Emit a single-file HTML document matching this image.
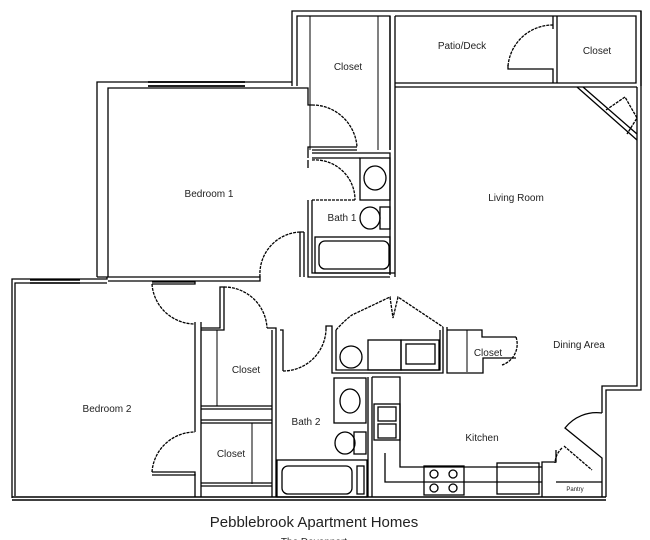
<!DOCTYPE html>
<html><head><meta charset="utf-8"><style>
html,body{margin:0;padding:0;background:#fff;width:650px;height:540px;overflow:hidden}
svg{display:block}
text{font-family:"Liberation Sans",sans-serif;fill:#222}
</style></head><body>
<svg width="650" height="540" viewBox="0 0 650 540" xmlns="http://www.w3.org/2000/svg">
<g fill="none" stroke="#000" stroke-width="1.3">
<path d="M292 86 V11 H641 V86"/>
<path d="M297 86 V16 H390 V150"/>
<path d="M395 16 V88"/>
<path d="M390 16 V150"/>
<line x1="310" y1="16" x2="310" y2="150" stroke-width="1"/>
<line x1="378" y1="16" x2="378" y2="150" stroke-width="1"/>
<path d="M395 16 H636 V83 H395"/>
<path d="M395 87 H637"/>
<path d="M553 16 V29 M557 16 V83 M553 83 V69 H508 V65"/>
<path d="M508 66 A45 45 0 0 1 553 25" stroke-dasharray="3 1"/>
<path d="M637 87 V386 H602 V413"/>
<path d="M641 11 V390 H606 V413"/>
<path d="M577 87 L637 140 M583 87 L637 134"/>
<path d="M606 110 L625 97 L637 118 L627 134" stroke-dasharray="3 1"/>
<path d="M97 277 V82 H292"/>
<path d="M108 277 V88 H308 V105 H312"/>
<path d="M148 82 H245 M148 86 H245" stroke-width="1.8"/>
<path d="M312 105 A45 45 0 0 1 357 147" stroke-dasharray="3 1"/>
<path d="M357 147 H308 V158 M312 150 H357 M312 153 H390 V275 M312 158 H360"/>
<path d="M312 160 A40 40 0 0 1 355 200 M355 200 H312" stroke-dasharray="3 1"/>
<path d="M308 160 V168 M308 200 V277 H390 M312 200 V273 H395"/>
<path d="M395 88 V277"/>
<rect x="360" y="158" width="30" height="42"/>
<ellipse cx="375" cy="178" rx="11" ry="12"/>
<rect x="380" y="207" width="10" height="22"/>
<ellipse cx="370" cy="218" rx="10" ry="11"/>
<rect x="315" y="237" width="75" height="36"/>
<rect x="319" y="241" width="70" height="28" rx="6"/>
<path d="M97 277 H260 V281 H108"/>
<path d="M260 277 A42 42 0 0 1 300 232" stroke-dasharray="3 1"/>
<path d="M300 232 V277 M304 232 V277 M300 232 H304"/>
<path d="M12 498 V279 H107 V277"/>
<path d="M15 496 V283 H107"/>
<path d="M30 280 H80 M30 283 H80" stroke-width="1.6"/>
<path d="M152 282 H195 V284 H152"/>
<path d="M152 284 A43 43 0 0 0 195 324" stroke-dasharray="3 1"/>
<path d="M195 322 V432 M201 322 V497 M195 474 V497"/>
<path d="M152 472 H195 V475 H152"/>
<path d="M152 472 A43 43 0 0 1 195 432" stroke-dasharray="3 1"/>
<path d="M201 328 H220 V287 H224 V330 H201"/>
<path d="M224 287 A43 43 0 0 1 267 328" stroke-dasharray="3 1"/>
<path d="M267 328 H276 V497 M272 330 V497"/>
<line x1="217" y1="330" x2="217" y2="406" stroke-width="1"/>
<path d="M201 406 H272 M201 409 H272 M201 420 H272 M201 423 H272"/>
<line x1="252" y1="423" x2="252" y2="484" stroke-width="1"/>
<path d="M201 483 H272 M201 486 H272"/>
<path d="M280 330 H283 V371"/>
<path d="M283 371 A43 43 0 0 0 326 330" stroke-dasharray="3 1"/>
<path d="M326 330 V326 H332 V373 H443 V327 M336 330 V370 H440 V330"/>
<path d="M336 330 Q345 320 352 315 L390 297 L393 318 L398 297 L443 327" stroke-dasharray="3 1"/>
<circle cx="351" cy="357" r="11"/>
<rect x="368" y="340" width="33" height="30"/>
<rect x="401" y="340" width="38" height="30"/>
<rect x="406" y="344" width="29" height="20"/>
<path d="M447 327 V373 H483 V358 H516 M447 330 H482 V337 H516"/>
<line x1="467" y1="330" x2="467" y2="372" stroke-width="1"/>
<path d="M516 337 A22 22 0 0 1 502 365" stroke-dasharray="3 1"/>
<rect x="334" y="378" width="32" height="45"/>
<ellipse cx="350" cy="401" rx="10" ry="12"/>
<rect x="354" y="432" width="12" height="22"/>
<ellipse cx="345" cy="443" rx="10" ry="11"/>
<rect x="277" y="460" width="90" height="37"/>
<rect x="282" y="466" width="70" height="28" rx="6"/>
<rect x="357" y="466" width="7" height="28"/>
<path d="M368 377 V497 M372 377 V497 M372 377 H400 V467 H542 M385 453 V482 H542"/>
<rect x="374" y="404" width="26" height="36"/>
<rect x="378" y="407" width="18" height="14"/>
<rect x="378" y="424" width="18" height="14"/>
<rect x="424" y="466" width="40" height="29"/>
<circle cx="434" cy="474" r="4"/><circle cx="453" cy="474" r="4"/>
<circle cx="434" cy="488" r="4"/><circle cx="453" cy="488" r="4"/>
<rect x="497" y="463" width="42" height="31"/>
<path d="M542 497 V462 H556 V450 M602 413 A40 40 0 0 0 565 428 L602 458 V497"/>
<path d="M606 413 V497 M556 482 H602"/>
<path d="M562 448 A22 22 0 0 0 555 463" stroke-dasharray="3 1"/>
<path d="M564 446 L592 470" stroke-dasharray="3 1"/>
<path d="M12 497 H606 M12 500 H606" stroke-width="1.6"/>
</g>
<g font-size="10" text-anchor="middle">
<text x="348" y="70">Closet</text>
<text x="462" y="49">Patio/Deck</text>
<text x="597" y="54">Closet</text>
<text x="209" y="197">Bedroom 1</text>
<text x="516" y="201">Living Room</text>
<text x="342" y="221">Bath 1</text>
<text x="246" y="373">Closet</text>
<text x="488" y="356">Closet</text>
<text x="579" y="348">Dining Area</text>
<text x="107" y="412">Bedroom 2</text>
<text x="306" y="425">Bath 2</text>
<text x="482" y="441">Kitchen</text>
<text x="231" y="457">Closet</text>
<text x="575" y="491" font-size="6">Pantry</text>
<text x="314" y="527" font-size="15">Pebblebrook Apartment Homes</text>
<text x="314" y="545" font-size="10">The Davenport</text>
</g>
</svg>
</body></html>
